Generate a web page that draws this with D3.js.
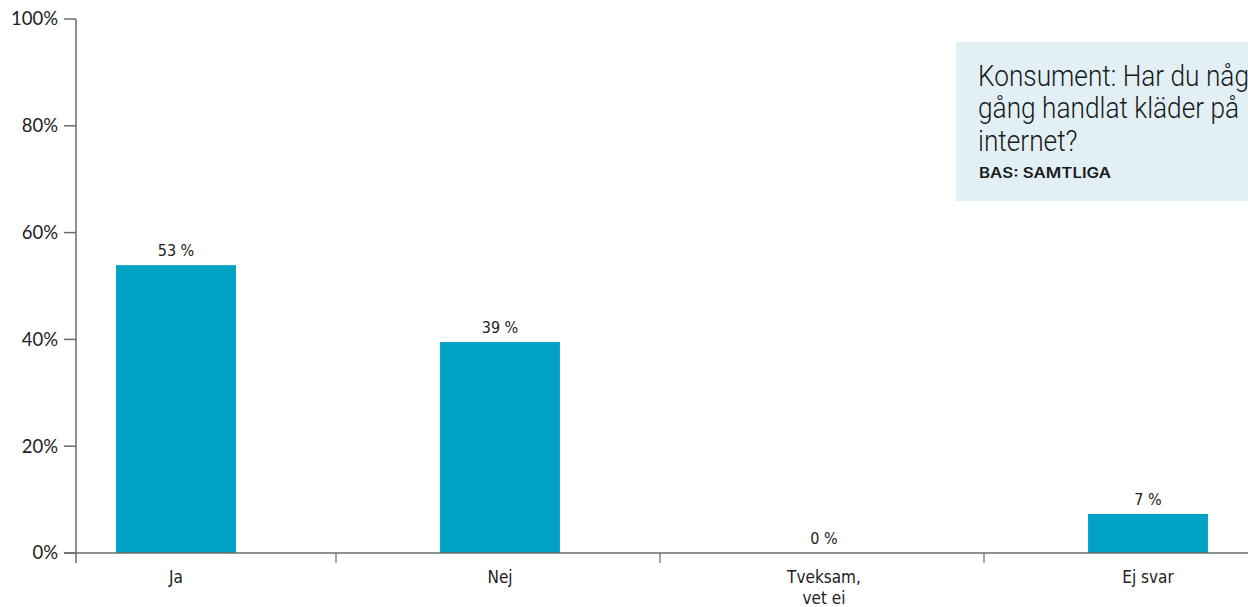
<!DOCTYPE html>
<html><head><meta charset="utf-8">
<script src="https://cdn.jsdelivr.net/npm/d3@7"></script>
<style>
body{margin:0;background:#fff;}
svg{display:block;}
</style></head>
<body><svg id="c" width="1248" height="607"></svg>
<script>
const categories = ["Ja", "Nej", "Tveksam,\nvet ei", "Ej svar"];
const values = [53.9, 39.5, 0, 7.3];
const valueLabels = ["53 %", "39 %", "0 %", "7 %"];
const yTicks = [0, 20, 40, 60, 80, 100];
const titleLines = ["Konsument: Har du någon", "gång handlat kläder på", "internet?"];
const subtitle = "BAS: SAMTLIGA";

const svg = d3.select("#c");
const condensed = "'DejaVu Sans Condensed','Liberation Sans Narrow',sans-serif";
const axisColor = "#6b6b6b";

const y = d3.scaleLinear().domain([0, 100]).range([553, 19]);
const xOuter = d3.scaleBand().domain(categories).range([12, 1308]);
const xBar = d3.scaleBand().domain(categories).range([14, 1310]).paddingInner(0.63).paddingOuter(0.315);

// y axis
const yAxis = svg.append("g").attr("transform", "translate(76,0)");
yAxis.append("line").attr("x1", 0).attr("x2", 0).attr("y1", y(100)).attr("y2", 563)
  .attr("stroke", axisColor).attr("stroke-width", 1.5);
yTicks.forEach(t => {
  yAxis.append("line").attr("x1", -12).attr("x2", 0).attr("y1", y(t)).attr("y2", y(t))
    .attr("stroke", axisColor).attr("stroke-width", 1.5);
  yAxis.append("text").attr("x", -18).attr("y", y(t)).attr("dy", "0.35em")
    .attr("text-anchor", "end").attr("font-family", "Lato, 'Noto Sans', sans-serif")
    .attr("font-size", 18.5).attr("fill", "#222").text(t + "%");
});

// bars
svg.append("g").selectAll("rect").data(categories).join("rect")
  .attr("x", d => xBar(d)).attr("width", xBar.bandwidth())
  .attr("y", (d, i) => y(values[i])).attr("height", (d, i) => y(0) - y(values[i]))
  .attr("fill", "#00a2c6");

// x axis baseline
svg.append("line").attr("x1", 64).attr("x2", 1248).attr("y1", y(0)).attr("y2", y(0))
  .attr("stroke", axisColor).attr("stroke-width", 1.5);
categories.slice(1).forEach(c => {
  const bx = xOuter(c);
  svg.append("line").attr("x1", bx).attr("x2", bx).attr("y1", y(0)).attr("y2", 563)
    .attr("stroke", axisColor).attr("stroke-width", 1.2);
});

// value labels
svg.append("g").selectAll("text").data(categories).join("text")
  .attr("x", d => xBar(d) + xBar.bandwidth() / 2)
  .attr("y", (d, i) => y(values[i]) - 9)
  .attr("text-anchor", "middle").attr("font-family", condensed)
  .attr("font-size", 16).attr("fill", "#222")
  .text((d, i) => valueLabels[i]);

// category labels
const cl = svg.append("g").selectAll("text").data(categories).join("text")
  .attr("text-anchor", "middle").attr("font-family", condensed)
  .attr("font-size", 17).attr("fill", "#222");
cl.each(function(d) {
  const cx = xBar(d) + xBar.bandwidth() / 2;
  d.split("\n").forEach((line, k) => {
    d3.select(this).append("tspan").attr("x", cx).attr("y", 583 + k * 21).text(line);
  });
});

// title box
svg.append("rect").attr("x", 956).attr("y", 42).attr("width", 320).attr("height", 159)
  .attr("fill", "#e2f0f6");
const tg = svg.append("g").attr("transform", "translate(978,0) scale(0.89,1)");
const tt = tg.append("text").attr("font-family", "Roboto, 'Noto Sans', sans-serif").attr("font-weight", 300)
  .attr("font-size", 29.5).attr("fill", "#1a1a1a");
titleLines.forEach((l, i) => {
  tt.append("tspan").attr("x", 0).attr("y", 86 + i * 32.5).text(l);
});
svg.append("text").attr("x", 979).attr("y", 178).attr("font-family", "Inter, Lato, sans-serif")
  .attr("font-weight", 600).attr("font-size", 14.5)
  .attr("textLength", 132).attr("lengthAdjust", "spacingAndGlyphs")
  .attr("fill", "#1a1a1a").text(subtitle);
</script></body></html>
